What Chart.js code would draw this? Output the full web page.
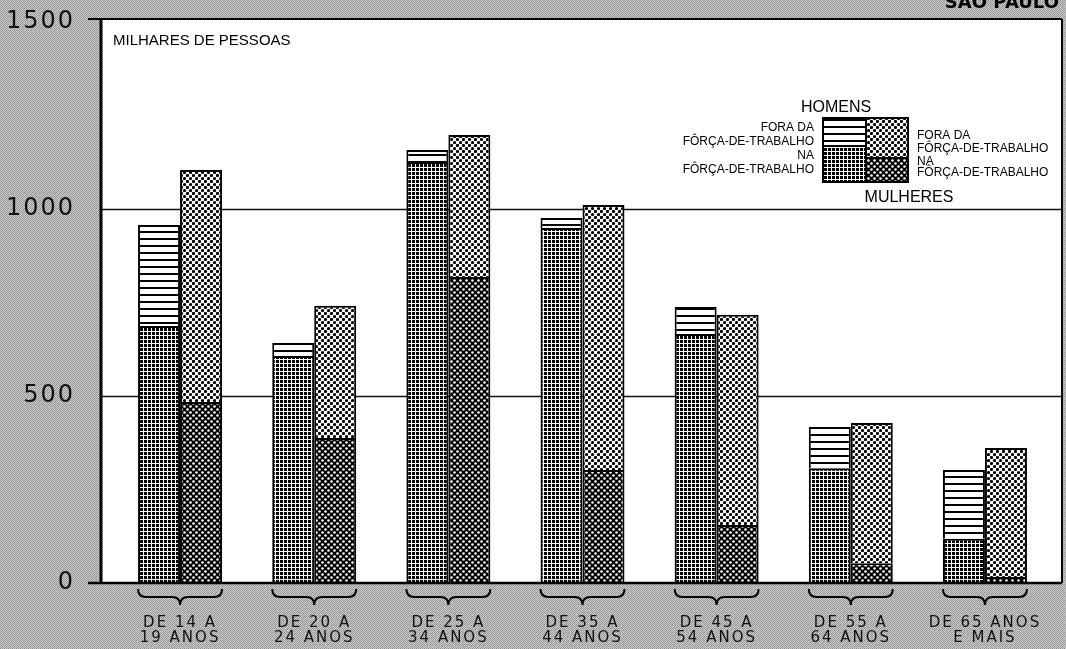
<!DOCTYPE html>
<html>
<head>
<meta charset="utf-8">
<script src="https://cdn.jsdelivr.net/npm/chart.js@4/dist/chart.umd.min.js"></script>
<style>
  html, body { margin: 0; padding: 0; background: #b0b0b0; }
  canvas { display: block; }
</style>
</head>
<body>
<canvas id="c" width="1066" height="649"></canvas>
<script>
// ---- data (milhares de pessoas) ----
const categories = [
  ['DE 14 A', '19 ANOS'],
  ['DE 20 A', '24 ANOS'],
  ['DE 25 A', '34 ANOS'],
  ['DE 35 A', '44 ANOS'],
  ['DE 45 A', '54 ANOS'],
  ['DE 55 A', '64 ANOS'],
  ['DE 65 ANOS', 'E MAIS']
];
const homensNaForca   = [687, 607, 1126, 949, 666, 307, 118];
const homensForaForca = [270, 35, 32, 27, 72, 110, 184];
const mulheresNaForca   = [484, 388, 818, 302, 155, 53, 16];
const mulheresForaForca = [620, 353, 380, 709, 562, 375, 345];
const yTicks = [0, 500, 1000, 1500];
const titleText = 'MILHARES DE PESSOAS';
const cornerText = 'SÃO PAULO';
const legendHomens = 'HOMENS';
const legendMulheres = 'MULHERES';
const legendFora = ['FORA DA', 'FÔRÇA-DE-TRABALHO'];
const legendNa = ['NA', 'FÔRÇA-DE-TRABALHO'];

// ---- patterns ----
function makePattern(size, drawFn) {
  const c = document.createElement('canvas');
  c.width = size; c.height = size;
  const g = c.getContext('2d');
  drawFn(g, size);
  return document.getElementById('c').getContext('2d').createPattern(c, 'repeat');
}
const patHLines = makePattern(7, (g, s) => {
  g.fillStyle = '#fff'; g.fillRect(0, 0, s, s);
  g.fillStyle = '#000'; g.fillRect(0, 0, s, 2);
});
const patGrid = makePattern(4, (g, s) => {
  g.fillStyle = '#fff'; g.fillRect(0, 0, s, s);
  g.fillStyle = '#000'; g.fillRect(0, 0, 3, 3);
});
const patLightDots = makePattern(6, (g, s) => {
  g.fillStyle = '#fff'; g.fillRect(0, 0, s, s);
  g.fillStyle = '#000';
  g.beginPath(); g.arc(1.5, 1.5, 1.6, 0, Math.PI * 2); g.fill();
  g.beginPath(); g.arc(4.5, 4.5, 1.6, 0, Math.PI * 2); g.fill();
});
const patDarkDots = makePattern(6, (g, s) => {
  g.fillStyle = '#000'; g.fillRect(0, 0, s, s);
  g.fillStyle = '#fff';
  g.beginPath(); g.arc(1.5, 1.5, 1.3, 0, Math.PI * 2); g.fill();
  g.beginPath(); g.arc(4.5, 4.5, 1.3, 0, Math.PI * 2); g.fill();
});
const patBg = makePattern(4, (g, s) => {
  const vals = [['#8c8c8c','#cfcfcf','#9a9a9a','#c4c4c4'],
                ['#c8c8c8','#a0a0a0','#d2d2d2','#909090'],
                ['#a4a4a4','#d0d0d0','#8e8e8e','#c2c2c2'],
                ['#cccccc','#969696','#c6c6c6','#a8a8a8']];
  for (let y = 0; y < 4; y++) for (let x = 0; x < 4; x++) {
    g.fillStyle = vals[y][x]; g.fillRect(x, y, 1, 1);
  }
});

// ---- frame geometry ----
const FRAME = { left: 101, top: 19, right: 1062, bottom: 583 };

const decor = {
  id: 'decor',
  beforeDraw(chart) {
    const ctx = chart.ctx;
    ctx.save();
    ctx.fillStyle = patBg;
    ctx.fillRect(0, 0, chart.width, chart.height);
    ctx.fillStyle = '#fff';
    ctx.fillRect(FRAME.left, FRAME.top, FRAME.right - FRAME.left, FRAME.bottom - FRAME.top);
    // corner label (cut at the top edge)
    ctx.fillStyle = '#000';
    ctx.font = 'bold 18px "DejaVu Sans"';
    ctx.letterSpacing = '0px';
    ctx.textAlign = 'right';
    ctx.textBaseline = 'alphabetic';
    ctx.fillText(cornerText, 1059, 8);
    ctx.restore();
    ctx.letterSpacing = '2px';
  },
  beforeDatasetsDraw(chart) {
    const ctx = chart.ctx;
    ctx.letterSpacing = '0px';
    const y = chart.scales.y;
    ctx.save();
    ctx.strokeStyle = '#111';
    ctx.lineWidth = 1.5;
    [500, 1000].forEach(v => {
      const py = Math.round(y.getPixelForValue(v)) + 0.5;
      ctx.beginPath(); ctx.moveTo(FRAME.left, py); ctx.lineTo(FRAME.right, py); ctx.stroke();
    });
    ctx.restore();
  },
  afterDatasetsDraw(chart) {
    const ctx = chart.ctx;
    const yS = chart.scales.y;
    ctx.save();
    ctx.letterSpacing = '0px';
    ctx.strokeStyle = '#000';
    // frame
    ctx.lineWidth = 3;
    ctx.beginPath(); ctx.moveTo(FRAME.left, FRAME.top); ctx.lineTo(FRAME.left, FRAME.bottom); ctx.stroke();
    ctx.lineWidth = 2;
    ctx.beginPath(); ctx.moveTo(88, FRAME.top); ctx.lineTo(FRAME.right, FRAME.top); ctx.stroke();
    ctx.beginPath(); ctx.moveTo(FRAME.right, FRAME.top); ctx.lineTo(FRAME.right, FRAME.bottom); ctx.stroke();
    ctx.lineWidth = 2.5;
    const by = yS.getPixelForValue(0);
    ctx.beginPath(); ctx.moveTo(88, by); ctx.lineTo(FRAME.right, by); ctx.stroke();

    // braces under each age group
    const mH = chart.getDatasetMeta(0), mM = chart.getDatasetMeta(2);
    ctx.lineWidth = 2;
    for (let i = 0; i < categories.length; i++) {
      const bl = mH.data[i], br = mM.data[i];
      const x0 = bl.x - bl.width / 2, x1 = br.x + br.width / 2;
      const c = (x0 + x1) / 2;
      const y0 = by + 6, ym = by + 14, y1 = by + 22;
      ctx.beginPath();
      ctx.moveTo(x0, y0);
      ctx.quadraticCurveTo(x0, ym, x0 + 8, ym);
      ctx.lineTo(c - 8, ym);
      ctx.quadraticCurveTo(c, ym, c, y1);
      ctx.quadraticCurveTo(c, ym, c + 8, ym);
      ctx.lineTo(x1 - 8, ym);
      ctx.quadraticCurveTo(x1, ym, x1, y0);
      ctx.stroke();
    }

    // title
    ctx.fillStyle = '#000';
    ctx.font = '15px "Liberation Sans"';
    ctx.textAlign = 'left';
    ctx.textBaseline = 'alphabetic';
    ctx.fillText(titleText, 113, 45);

    // legend
    const L = { x0: 823, xm: 866, x1: 908, y0: 118, yh: 146, ym: 158, y1: 182 };
    ctx.fillStyle = patHLines; ctx.fillRect(L.x0, L.y0, L.xm - L.x0, L.yh - L.y0);
    ctx.fillStyle = patGrid; ctx.fillRect(L.x0, L.yh, L.xm - L.x0, L.y1 - L.yh);
    ctx.fillStyle = patLightDots; ctx.fillRect(L.xm, L.y0, L.x1 - L.xm, L.ym - L.y0);
    ctx.fillStyle = patDarkDots; ctx.fillRect(L.xm, L.ym, L.x1 - L.xm, L.y1 - L.ym);
    ctx.lineWidth = 2;
    ctx.strokeRect(L.x0, L.y0, L.x1 - L.x0, L.y1 - L.y0);
    ctx.beginPath(); ctx.moveTo(L.xm, L.y0); ctx.lineTo(L.xm, L.y1); ctx.stroke();
    ctx.beginPath(); ctx.moveTo(L.x0, L.yh); ctx.lineTo(L.xm, L.yh); ctx.stroke();
    ctx.beginPath(); ctx.moveTo(L.xm, L.ym); ctx.lineTo(L.x1, L.ym); ctx.stroke();

    ctx.fillStyle = '#000';
    ctx.font = '16px "Liberation Sans"';
    ctx.textAlign = 'center';
    ctx.fillText(legendHomens, 836, 112);
    ctx.fillText(legendMulheres, 909, 202);

    ctx.font = '12px "Liberation Sans"';
    ctx.textAlign = 'right';
    ctx.fillText(legendFora[0], 814, 131);
    ctx.fillText(legendFora[1], 814, 145);
    ctx.fillText(legendNa[0], 814, 159);
    ctx.fillText(legendNa[1], 814, 173);
    ctx.textAlign = 'left';
    ctx.fillText(legendFora[0], 917, 139);
    ctx.fillText(legendFora[1], 917, 152);
    ctx.fillText(legendNa[0], 917, 165);
    ctx.fillText(legendNa[1], 917, 176);
    ctx.restore();
  }
};

new Chart(document.getElementById('c'), {
  type: 'bar',
  data: {
    labels: categories,
    datasets: [
      { label: 'Homens na força-de-trabalho', data: homensNaForca, stack: 'H',
        backgroundColor: patGrid, borderColor: '#000', borderWidth: 2, borderSkipped: 'start' },
      { label: 'Homens fora da força-de-trabalho', data: homensForaForca, stack: 'H',
        backgroundColor: patHLines, borderColor: '#000', borderWidth: 2, borderSkipped: 'start' },
      { label: 'Mulheres na força-de-trabalho', data: mulheresNaForca, stack: 'M',
        backgroundColor: patDarkDots, borderColor: '#000', borderWidth: 2, borderSkipped: 'start' },
      { label: 'Mulheres fora da força-de-trabalho', data: mulheresForaForca, stack: 'M',
        backgroundColor: patLightDots, borderColor: '#000', borderWidth: 2, borderSkipped: 'start' }
    ]
  },
  options: {
    responsive: false,
    animation: false,
    events: [],
    layout: { padding: { left: 0, right: 14, top: 22, bottom: 0 } },
    datasets: { bar: { categoryPercentage: 0.626, barPercentage: 1.0 } },
    plugins: { legend: { display: false }, tooltip: { enabled: false }, title: { display: false } },
    scales: {
      x: {
        stacked: true,
        grid: { display: false },
        border: { display: false },
        ticks: {
          color: '#111',
          font: { family: 'DejaVu Sans', size: 15, lineHeight: 0.97 },
          padding: 25,
          maxRotation: 0,
          autoSkip: false
        },
        afterFit(scale) { scale.height = 66; scale.paddingLeft = 0; scale.paddingRight = 0; }
      },
      y: {
        stacked: true,
        min: 0, max: 1500,
        afterBuildTicks(scale) { scale.ticks = yTicks.map(v => ({ value: v })); },
        grid: { display: false },
        border: { display: false },
        ticks: {
          color: '#111',
          font: { family: 'DejaVu Sans', size: 24 },
          padding: 30,
          callback: v => String(v)
        },
        afterFit(scale) { scale.width = 113; scale.paddingTop = 0; scale.paddingBottom = 0; }
      }
    }
  },
  plugins: [decor]
});
</script>
</body>
</html>
